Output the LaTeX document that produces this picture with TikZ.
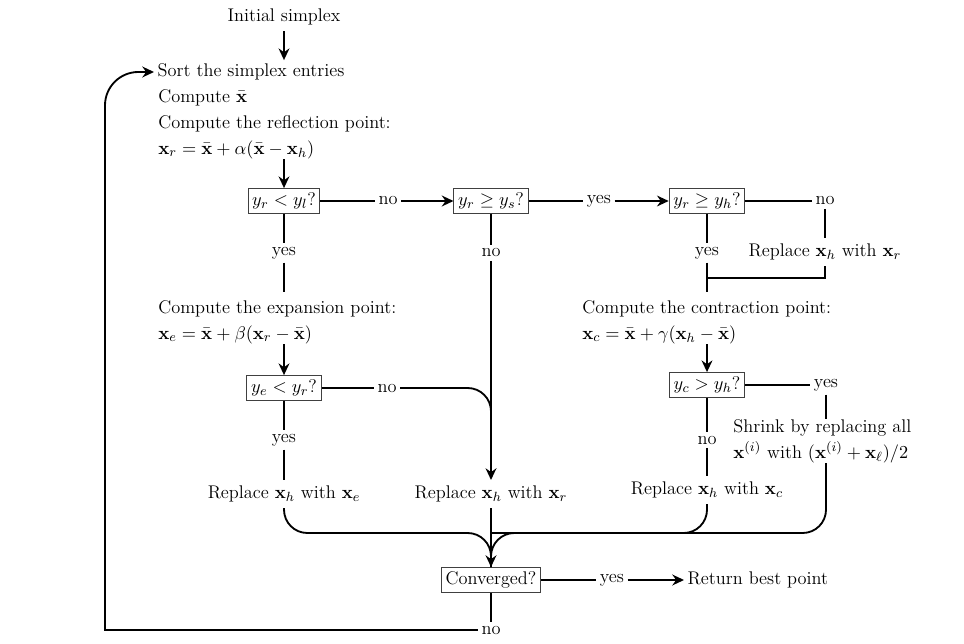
\documentclass[tikz,border=0pt]{standalone}
\usepackage{amsmath}
\usetikzlibrary{arrows.meta,calc}
\tikzset{
  every node/.style={font=\fontsize{11}{15.6}\selectfont},
  test/.style={draw=black!75, line width=.6pt, inner sep=2.5pt},
  lbl/.style={inner sep=2pt},
  txt/.style={align=left, inner sep=0pt},
  flow/.style={line width=1.1pt},
  go/.style={flow, -{Stealth[length=7pt,width=6.5pt]}},
}
\newcommand{\xv}{\mathbf{x}}
\newcommand{\xb}{\bar{\mathbf{x}}}
\begin{document}
\begin{tikzpicture}[x=0.6pt,y=-0.6pt]
\useasboundingbox (0,0) rectangle (964,643);
\node (init) at (284,17) {Initial simplex};
\node[lbl, anchor=west] (sort) at (154,72) {Sort the simplex entries};
\node[txt, anchor=north west] (reflect) at (158,89) {Compute $\xb$\\ Compute the reflection point:\\ $\xv_r = \xb + \alpha(\xb - \xv_h)$};
\node[test] (tl) at (284,201) {$y_r < y_l$?};
\node[lbl] (nol) at (388,201) {no};
\node[test] (ts) at (491,201) {$y_r \geq y_s$?};
\node[lbl] (yess) at (599,201) {yes};
\node[test] (th) at (707,201) {$y_r \geq y_h$?};
\node[lbl] (noh) at (825,201) {no};
\node (repr) at (825,252) {Replace $\xv_h$ with $\xv_r$};
\node[lbl] (yesl) at (284,253) {yes};
\node[lbl] (nos) at (491,253) {no};
\node[lbl] (yesh) at (707,253) {yes};
\node[txt, anchor=north west] (expand) at (158,300) {Compute the expansion point:\\ $\xv_e = \xb + \beta(\xv_r - \xb)$};
\node[txt, anchor=north west] (contract) at (582,300) {Compute the contraction point:\\ $\xv_c = \xb + \gamma(\xv_h - \xb)$};
\node[test] (te) at (284,388) {$y_e < y_r$?};
\node[lbl] (noe) at (387,388) {no};
\node[test] (tc) at (707,385) {$y_c > y_h$?};
\node[lbl] (yesc) at (826,385) {yes};
\node[txt, anchor=north west] (shrink) at (733,419) {Shrink by replacing all\\ $\xv^{(i)}$ with $(\xv^{(i)} + \xv_\ell)/2$};
\node[lbl] (yese) at (284,440) {yes};
\node[lbl] (noc) at (707,440) {no};
\node (repe) at (284,494) {Replace $\xv_h$ with $\xv_e$};
\node (reprs) at (491,494) {Replace $\xv_h$ with $\xv_r$};
\node (repc) at (707,490) {Replace $\xv_h$ with $\xv_c$};
\node[test] (conv) at (491,580) {Converged?};
\node[lbl] (yesv) at (612,580) {yes};
\node[lbl, anchor=west] (best) at (684,580) {Return best point};
\node[lbl] (nov) at (491,630) {no};
\coordinate (join) at (491,533);
\coordinate (back) at (105,300);
\draw[go] (init) -- (init |- sort.north);
\draw[go] (reflect.south -| tl) -- (tl);
\draw[flow] (tl) -- (nol);
\draw[go] (nol) -- (ts);
\draw[flow] (ts) -- (yess);
\draw[go] (yess) -- (th);
\draw[flow] (th) -- (noh);
\draw[flow] (noh) -- (repr);
\draw[flow] (repr) |- (707,278);
\draw[flow] (th) -- (yesh);
\draw[flow] (yesh) -- ($(yesh |- contract.north)+(0,-8)$);
\draw[flow] (tl) -- (yesl);
\draw[flow] (yesl) -- ($(yesl |- expand.north)+(0,-8)$);
\draw[flow] (ts) -- (nos);
\draw[go] (nos) -- (reprs);
\draw[go] (expand.south -| te) -- (te);
\draw[go] (contract.south -| tc) -- (tc);
\draw[flow] (te) -- (noe);
\draw[flow, rounded corners=14pt] (noe) -| (491,440);
\draw[flow] (tc) -- (yesc);
\draw[flow] (yesc) -- (yesc |- shrink.north);
\draw[flow] (te) -- (yese);
\draw[flow] (yese) -- (repe);
\draw[flow] (tc) -- (noc);
\draw[flow] (noc) -- (repc);
\draw[flow, rounded corners=14pt] (repe) |- (join) -- (conv);
\draw[flow, rounded corners=14pt] (shrink.south -| yesc) |- (join) -- (conv);
\draw[flow, rounded corners=14pt] (repc) |- (join);
\draw[go] (reprs) -- (conv);
\draw[flow] (conv) -- (yesv);
\draw[go] (yesv) -- (best);
\draw[flow] (conv) -- (nov);
\draw[go] (nov) -| (back) [rounded corners=20pt] |- (sort);
\end{tikzpicture}
\end{document}
